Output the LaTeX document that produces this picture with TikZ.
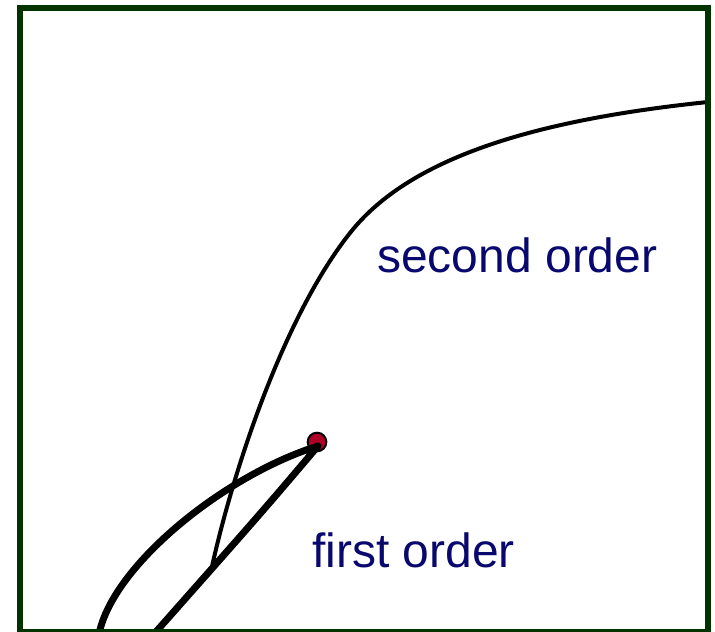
\documentclass[tikz,border=0pt]{standalone}
\usepackage{fontspec}
\setmainfont{Liberation Sans}
\definecolor{framegreen}{RGB}{0,51,0}
\definecolor{labelblue}{RGB}{8,8,110}
\definecolor{dotred}{RGB}{175,0,40}
\begin{document}
\begin{tikzpicture}[x=0.75pt,y=-0.75pt,
  frame/.style={draw=framegreen,line width=4.5pt},
  firstcurve/.style={draw=black,line width=5.2pt,line join=round},
  secondcurve/.style={draw=black,line width=3pt},
  lbl/.style={text=labelblue,font=\fontsize{36pt}{40pt}\selectfont,inner sep=0pt,anchor=base west},
  tipdot/.style={circle,draw=black,fill=dotred,line width=1.5pt,minimum size=14pt,inner sep=0pt}]
\useasboundingbox (0,0) rectangle (715,632);
\coordinate (junction) at (211,571);
\coordinate (tip) at (318,446);
\coordinate (dotc) at (317,442);
\coordinate (leftend) at (99,634);
\coordinate (rightend) at (154,634);
\coordinate (mid) at (350,233);
\coordinate (topend) at (708,102);
\node[tipdot] (dot) at (dotc) {};
% second order curve
\draw[secondcurve] (junction) .. controls (233,470) and (284,316) .. (mid)
  .. controls (409,158) and (534,120) .. (topend);
% first order curve
\draw[firstcurve] (leftend) .. controls (113,565) and (225,475) .. (tip)
  .. controls (262,512) .. (rightend);
\node[lbl] (second) at (377,272) {second order};
\node[lbl] (first) at (312,567) {first order};
\draw[frame] (20,7.5) rectangle (708,632);
\end{tikzpicture}
\end{document}
